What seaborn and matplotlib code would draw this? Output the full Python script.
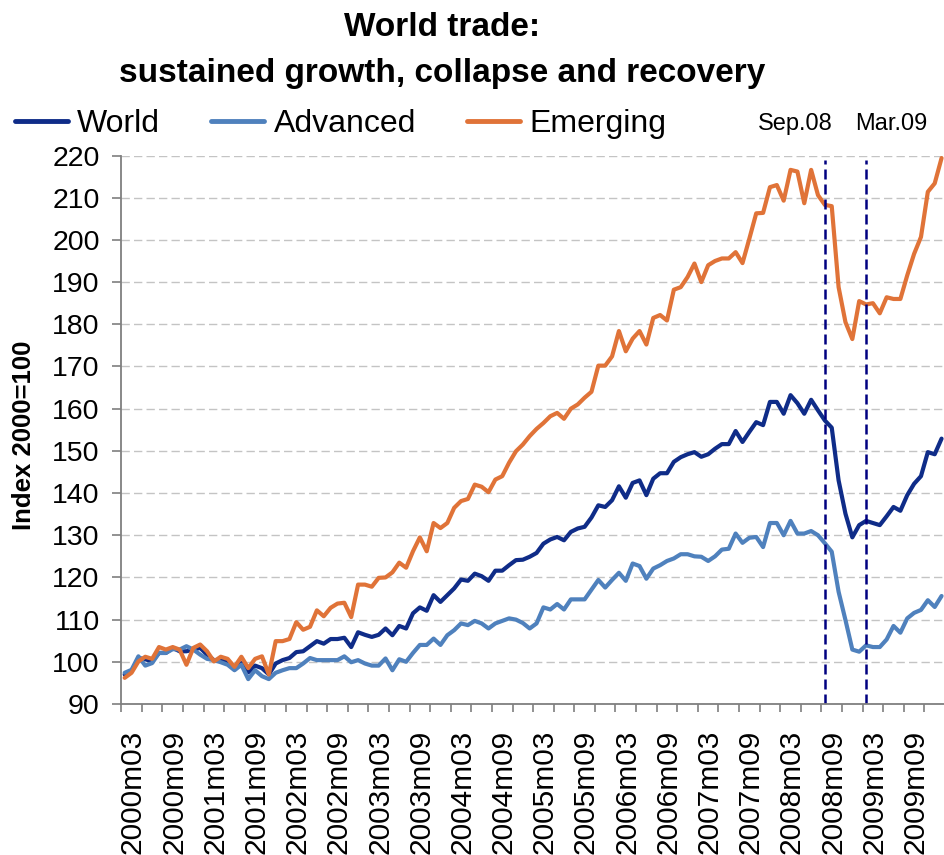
import pandas as pd
import seaborn as sns
import matplotlib.pyplot as plt

sns.set_style('white')
plt.rcParams['font.family'] = ['Liberation Sans', 'DejaVu Sans']
plt.rcParams['text.color'] = 'black'
plt.rcParams['xtick.labelcolor'] = 'black'
plt.rcParams['ytick.labelcolor'] = 'black'

# monthly index values, 2000m03 .. 2010m02 (2000=100)
world = [97.0, 97.7, 100.9, 100.6, 100.1, 102.1, 102.1, 103.3, 102.5, 102.5,
         102.9, 103.3, 101.7, 100.4, 100.4, 99.9, 98.5, 99.7, 97.5, 99.1,
         98.5, 97.0, 99.6, 100.4, 100.9, 102.3, 102.5, 103.7, 104.9, 104.3,
         105.4, 105.4, 105.7, 103.5, 107.0, 106.4, 105.9, 106.4, 107.9, 106.3,
         108.5, 107.9, 111.5, 112.9, 112.1, 115.8, 114.2, 115.8, 117.4, 119.5,
         119.2, 120.9, 120.3, 119.2, 121.6, 121.6, 122.9, 124.1, 124.2, 124.9,
         125.8, 128.0, 129.0, 129.6, 128.8, 130.8, 131.6, 132.0, 134.2, 137.1,
         136.7, 138.3, 141.6, 138.9, 142.4, 143.0, 139.5, 143.4, 144.7, 144.7,
         147.4, 148.5, 149.2, 149.7, 148.6, 149.2, 150.5, 151.6, 151.6, 154.7,
         152.1, 154.5, 156.8, 156.1, 161.6, 161.6, 158.8, 163.2, 161.3, 158.8,
         162.1, 159.6, 157.2, 155.5, 143.0, 135.1, 129.5, 132.4, 133.4, 132.9,
         132.4, 134.5, 136.7, 135.8, 139.5, 142.2, 144.0, 149.7, 149.2, 152.9]

advanced = [97.4, 98.1, 101.3, 99.1, 99.7, 102.1, 102.1, 103.0, 102.9, 103.7,
            102.9, 101.7, 100.7, 100.4, 99.9, 99.3, 98.0, 99.3, 95.9, 98.0,
            96.6, 95.9, 97.4, 98.0, 98.5, 98.5, 99.6, 100.9, 100.4, 100.4,
            100.4, 100.4, 101.3, 99.9, 100.4, 99.6, 99.1, 99.1, 100.8, 98.0,
            100.6, 100.0, 102.1, 104.0, 104.0, 105.5, 104.0, 106.3, 107.5, 109.1,
            108.7, 109.7, 109.1, 107.9, 109.1, 109.7, 110.3, 110.0, 109.2, 107.9,
            109.1, 112.9, 112.4, 113.7, 112.4, 114.8, 114.8, 114.8, 117.1, 119.4,
            117.6, 119.4, 121.1, 119.2, 123.3, 122.7, 119.7, 122.1, 122.9, 123.9,
            124.5, 125.5, 125.5, 125.0, 124.9, 123.9, 125.0, 126.6, 126.8, 130.4,
            128.2, 129.4, 129.6, 127.2, 132.9, 132.9, 130.0, 133.4, 130.4, 130.4,
            131.0, 130.0, 128.1, 126.1, 116.6, 109.9, 102.9, 102.4, 103.9, 103.5,
            103.5, 105.3, 108.5, 106.9, 110.3, 111.6, 112.3, 114.6, 113.0, 115.6]

emerging = [96.2, 97.4, 100.1, 101.2, 100.7, 103.5, 102.9, 103.5, 102.9, 99.3,
            103.3, 104.1, 102.5, 100.1, 101.2, 100.7, 98.8, 101.2, 98.5, 100.7,
            101.3, 97.0, 104.9, 104.9, 105.4, 109.4, 107.6, 108.3, 112.2, 110.8,
            112.8, 113.8, 114.0, 110.6, 118.3, 118.3, 117.8, 119.9, 120.0, 121.2,
            123.5, 122.3, 126.2, 129.5, 126.2, 132.9, 131.7, 132.9, 136.5, 138.1,
            138.6, 142.0, 141.5, 140.2, 143.2, 144.0, 147.2, 149.9, 151.5, 153.5,
            155.2, 156.6, 158.2, 159.0, 157.6, 160.0, 161.0, 162.6, 164.0, 170.2,
            170.2, 172.4, 178.4, 173.6, 176.6, 178.4, 175.2, 181.5, 182.2, 180.9,
            188.2, 188.8, 191.2, 194.4, 190.0, 194.0, 195.0, 195.6, 195.6, 197.1,
            194.5, 200.3, 206.3, 206.4, 212.5, 213.0, 209.3, 216.6, 216.2, 208.7,
            216.6, 210.6, 208.3, 208.0, 188.8, 180.5, 176.5, 185.5, 184.7, 185.0,
            182.6, 186.4, 186.0, 186.0, 191.6, 196.7, 200.7, 211.4, 213.4, 219.4]

tick_labels = ['2000m03', '2000m09', '2001m03', '2001m09', '2002m03', '2002m09',
               '2003m03', '2003m09', '2004m03', '2004m09', '2005m03', '2005m09',
               '2006m03', '2006m09', '2007m03', '2007m09', '2008m03', '2008m09',
               '2009m03', '2009m09']
event_labels = ['Sep.08', 'Mar.09']
event_months = ['2008m09', '2009m03']

months = [f"{p.year}m{p.month:02d}"
          for p in pd.period_range('2000-03', periods=len(world), freq='M')]
pos = {m: i for i, m in enumerate(months)}

df = pd.DataFrame({'month': months, 'World': world,
                   'Advanced': advanced, 'Emerging': emerging})
long = df.melt(id_vars='month', var_name='series', value_name='value')
long['x'] = long['month'].map(pos)

order = ['World', 'Advanced', 'Emerging']
colors = {'World': '#0f2c88', 'Advanced': '#4f81bd', 'Emerging': '#e07338'}

fig = plt.figure(figsize=(9.45, 8.55), dpi=100)
ax = fig.add_axes([0.1283, 0.1766, 0.8717, 0.6415])

sns.lineplot(data=long, x='x', y='value', hue='series', hue_order=order,
             palette=colors, lw=3, ax=ax, legend=False)

ax.set_xlim(-0.5, 118.97)
ax.set_ylim(90, 220)
ax.set_yticks(range(90, 221, 10))
ax.tick_params(axis='y', labelsize=20.5, length=6.5, width=1.2,
               color='#7f7f7f', pad=9, left=True)

# labels every 6 months, tick marks every 3 months between categories
ax.set_xticks([pos[m] + 1.2 for m in tick_labels])
ax.set_xticklabels(tick_labels, rotation=90)
ax.set_xticks([i - 0.5 for i in range(0, len(months) + 1, 3)], minor=True)
ax.tick_params(axis='x', which='major', labelsize=21.5, length=0, pad=18.5)
ax.tick_params(axis='x', which='minor', length=6, width=1.2,
               color='#7f7f7f', bottom=True)

ax.yaxis.grid(True, ls=(0, (6, 3)), color='#c4c4c4', lw=1.0)
ax.xaxis.grid(False)
ax.set_axisbelow(True)
for side in ['top', 'right']:
    ax.spines[side].set_visible(False)
for side in ['left', 'bottom']:
    ax.spines[side].set_color('#7f7f7f')
    ax.spines[side].set_linewidth(1.3)
ax.set_xlabel('')
ax.set_ylabel('')

ev_x = [pos[m] for m in event_months]
ax.vlines(ev_x, 90, 219, colors='#000080', linestyles=(0, (4, 2)), lw=1.8)
for lab, x, dx in zip(event_labels, ev_x, [-21, 18]):
    ax.annotate(lab, xy=(x, 1), xycoords=('data', 'axes fraction'),
                xytext=(dx, 23), textcoords='offset points',
                ha='center', va='center', fontsize=17)

fig.legend(ax.lines[:3], order, loc='center left',
           bbox_to_anchor=(0.0159, 0.855), ncol=3, frameon=False,
           fontsize=23, handlelength=1.65, handletextpad=0.3,
           columnspacing=1.6, borderaxespad=0, borderpad=0)
for h in fig.legends[0].get_lines():
    h.set_linewidth(3.5)

fig.text(24 / 945, 1 - 435 / 855, 'Index 2000=100', rotation=90,
         fontweight='bold', fontsize=18.5, ha='center', va='center')
fig.text(442 / 945, 1 - 36 / 855, 'World trade:', fontweight='bold',
         fontsize=24, ha='center', va='baseline')
fig.text(442 / 945, 1 - 82 / 855, 'sustained growth, collapse and recovery',
         fontweight='bold', fontsize=24, ha='center', va='baseline')

fig.savefig('out.png', dpi=100)
